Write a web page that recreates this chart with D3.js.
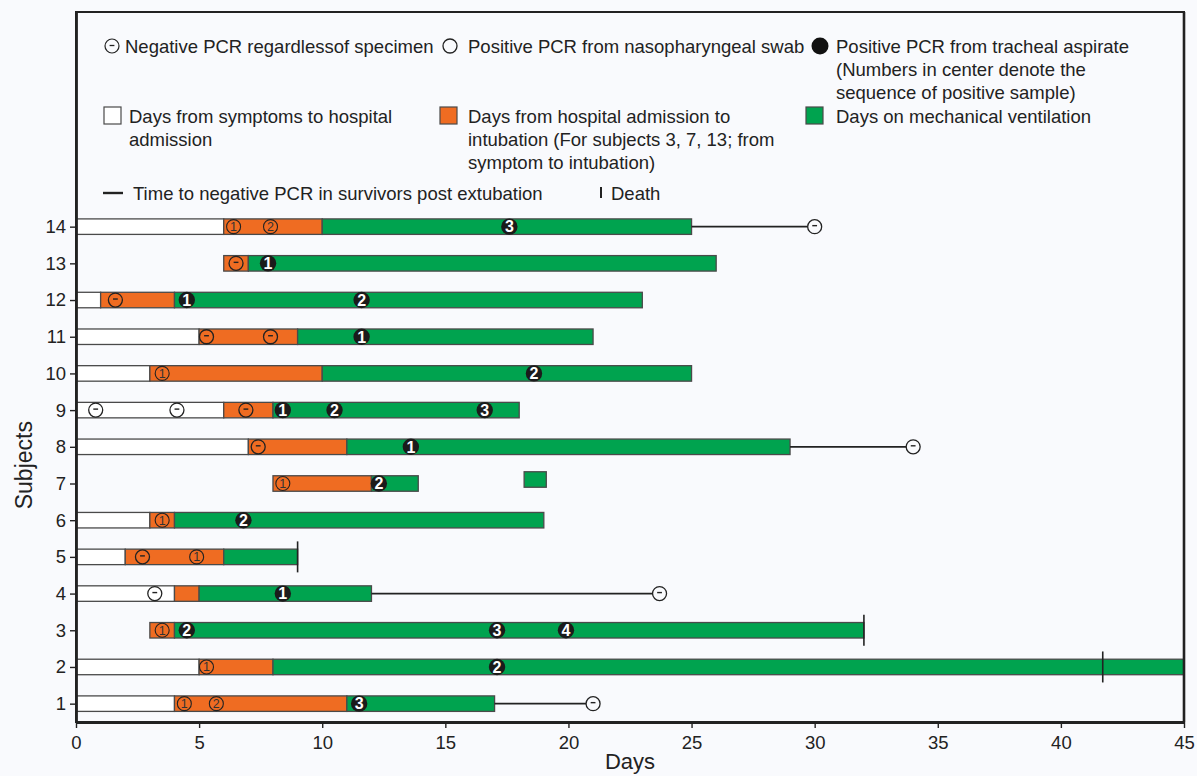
<!DOCTYPE html>
<html>
<head>
<meta charset="utf-8">
<script src="https://cdn.jsdelivr.net/npm/d3@7"></script>
<style>
  html, body { margin: 0; padding: 0; background: #f9fafd; }
  #chart { width: 1197px; height: 776px; }
  text { font-family: "Liberation Sans", Arial, sans-serif; fill: #222; }
</style>
</head>
<body>
<div id="chart"></div>
<script>
// Subject timelines: symptom onset -> admission -> intubation -> ventilation,
// with PCR sampling markers, post-extubation negative PCR lines and deaths.
var subjects     = [1, 2, 3, 4, 5, 6, 7, 8, 9, 10, 11, 12, 13, 14];
var admitDay     = [4, 5, null, 4, 2, 3, null, 7, 6, 3, 5, 1, null, 6];
var orangeStart  = [4, 5, 3, 4, 2, 3, 8, 7, 6, 3, 5, 1, 6, 6];
var intubDay     = [11, 8, 4, 5, 6, 4, 12, 11, 8, 10, 9, 4, 7, 10];
var ventEnd      = [17, 45, 32, 12, 9, 19, 13.9, 29, 18, 25, 21, 23, 26, 25];
var extraVent    = [[7, 18.2, 19.1]];            // subject, start, end
var negLines     = [[1, 21], [4, 23.7], [8, 34], [14, 30]];
var deaths       = [[2, 41.7], [3, 32], [5, 9]];
var negatives    = [[1, 21], [4, 3.2], [4, 23.7], [5, 2.7], [8, 7.4], [8, 34],
                    [9, 0.8], [9, 4.1], [9, 6.9], [11, 5.3], [11, 7.9],
                    [12, 1.6], [13, 6.5], [14, 30]];
var npPositive   = [[1, 4.4, 1], [1, 5.7, 2], [2, 5.3, 1], [3, 3.5, 1], [5, 4.9, 1],
                    [6, 3.5, 1], [7, 8.4, 1], [10, 3.5, 1], [14, 6.4, 1], [14, 7.9, 2]];
var trachPositive = [[1, 11.5, 3], [2, 17.1, 2], [3, 4.5, 2], [3, 17.1, 3], [3, 19.9, 4],
                     [4, 8.4, 1], [6, 6.8, 2], [7, 12.3, 2], [8, 13.6, 1], [9, 8.4, 1],
                     [9, 10.5, 2], [9, 16.6, 3], [10, 18.6, 2], [11, 11.6, 1],
                     [12, 4.5, 1], [12, 11.6, 2], [13, 7.8, 1], [14, 17.6, 3]];
var xTicks = [0, 5, 10, 15, 20, 25, 30, 35, 40, 45];

var C_ORANGE = '#ef6c22', C_GREEN = '#00a34f', C_EDGE = '#4a4a4a', C_BG = '#f9fafd';

(function () {
    var W = 1197, H = 776;
    var margin = { top: 12, right: 13, bottom: 54, left: 76 };
    var innerW = W - margin.left - margin.right;
    var innerH = H - margin.top - margin.bottom;

    var svg = d3.select('#chart').append('svg')
        .attr('width', W).attr('height', H);
    var g = svg.append('g')
        .attr('transform', 'translate(' + margin.left + ',' + margin.top + ')');

    var x = d3.scaleLinear().domain([0, 45]).range([0, innerW]);
    var y = d3.scaleLinear().domain([0.5, 19.85]).range([innerH, 0]);
    var barH = 15.5;

    // Frame
    g.append('rect').attr('x', 0).attr('y', 0)
        .attr('width', innerW).attr('height', innerH)
        .attr('fill', C_BG).attr('stroke', '#222').attr('stroke-width', 2);

    // Bars
    function bar(s, a, b, color, dy) {
        g.append('rect')
            .attr('x', x(a)).attr('y', y(s) - barH / 2 + (dy || 0))
            .attr('width', x(b) - x(a)).attr('height', barH)
            .attr('fill', color).attr('stroke', C_EDGE).attr('stroke-width', 1.3);
    }
    subjects.forEach(function (s, i) {
        if (admitDay[i] !== null) bar(s, 0, admitDay[i], '#ffffff');
        bar(s, orangeStart[i], intubDay[i], C_ORANGE);
        bar(s, intubDay[i], ventEnd[i], C_GREEN);
    });
    extraVent.forEach(function (d) { bar(d[0], d[1], d[2], C_GREEN, -4); });

    // Time to negative PCR lines
    var rOpen = 7;
    negLines.forEach(function (d) {
        var i = subjects.indexOf(d[0]);
        g.append('line')
            .attr('x1', x(ventEnd[i])).attr('x2', x(d[1]) - rOpen)
            .attr('y1', y(d[0])).attr('y2', y(d[0]))
            .attr('stroke', '#222').attr('stroke-width', 1.7);
    });

    // Deaths
    deaths.forEach(function (d) {
        g.append('line')
            .attr('x1', x(d[1])).attr('x2', x(d[1]))
            .attr('y1', y(d[0]) - barH).attr('y2', y(d[0]) + barH)
            .attr('stroke', '#222').attr('stroke-width', 1.6);
    });

    // Negative PCR markers
    negatives.forEach(function (d) {
        var cx = x(d[1]), cy = y(d[0]);
        g.append('circle').attr('cx', cx).attr('cy', cy).attr('r', rOpen)
            .attr('fill', 'none').attr('stroke', '#222').attr('stroke-width', 1.3);
        g.append('line').attr('x1', cx - 2.4).attr('x2', cx + 2.4)
            .attr('y1', cy - 1).attr('y2', cy - 1)
            .attr('stroke', '#222').attr('stroke-width', 1.4);
    });

    // Positive nasopharyngeal swab markers
    npPositive.forEach(function (d) {
        var cx = x(d[1]), cy = y(d[0]);
        g.append('circle').attr('cx', cx).attr('cy', cy).attr('r', rOpen)
            .attr('fill', 'none').attr('stroke', '#222').attr('stroke-width', 1.1);
        g.append('text').attr('x', cx).attr('y', cy + 4.5)
            .attr('text-anchor', 'middle').style('font-size', '12.5px')
            .style('fill', '#333').text(d[2]);
    });

    // Positive tracheal aspirate markers
    trachPositive.forEach(function (d) {
        var cx = x(d[1]), cy = y(d[0]);
        g.append('circle').attr('cx', cx).attr('cy', cy).attr('r', 8.2)
            .attr('fill', '#1b1b1b');
        g.append('text').attr('x', cx).attr('y', cy + 5.8)
            .attr('text-anchor', 'middle').style('font-size', '16px')
            .style('font-weight', 'bold').style('fill', '#fff').text(d[2]);
    });

    // Axes
    var xAxisG = g.append('g')
        .attr('transform', 'translate(0,' + innerH + ')')
        .call(d3.axisBottom(x).tickValues(xTicks).tickSize(6).tickSizeOuter(0));
    var yAxisG = g.append('g')
        .call(d3.axisLeft(y).tickValues(subjects).tickSize(6).tickSizeOuter(0));
    [xAxisG, yAxisG].forEach(function (ax) {
        ax.select('.domain').attr('stroke', '#222').attr('stroke-width', 2.8);
        ax.selectAll('.tick line').attr('stroke', '#222').attr('stroke-width', 1.4);
        ax.selectAll('.tick text')
            .style('font-family', '"Liberation Sans", Arial, sans-serif')
            .style('font-size', '18.5px').style('fill', '#222');
    });
    xAxisG.selectAll('.tick text').attr('dy', '0.95em');
    yAxisG.selectAll('.tick text').attr('dx', '-0.05em');
    g.append('line').attr('x1', innerW).attr('x2', innerW)
        .attr('y1', 0).attr('y2', innerH)
        .attr('stroke', '#222').attr('stroke-width', 2.6);

    // Axis titles
    svg.append('text').attr('x', margin.left + x(22.5)).attr('y', 769)
        .attr('text-anchor', 'middle').style('font-size', '22px').text('Days');
    svg.append('text')
        .attr('transform', 'translate(32,' + (margin.top + y(7.5)) + ') rotate(-90)')
        .attr('text-anchor', 'middle').style('font-size', '23px').text('Subjects');

    // Legend
    var L = svg.append('g');
    function ltext(tx, ty, str) {
        L.append('text').attr('x', tx).attr('y', ty).style('font-size', '18.5px').text(str);
    }
    // row 1
    L.append('circle').attr('cx', 112).attr('cy', 46).attr('r', 7)
        .attr('fill', 'none').attr('stroke', '#222').attr('stroke-width', 1.2);
    L.append('line').attr('x1', 109.6).attr('x2', 114.4).attr('y1', 45.5).attr('y2', 45.5)
        .attr('stroke', '#222').attr('stroke-width', 1.3);
    ltext(125, 53, 'Negative PCR regardlessof specimen');
    L.append('circle').attr('cx', 450).attr('cy', 46).attr('r', 7)
        .attr('fill', 'none').attr('stroke', '#222').attr('stroke-width', 1.3);
    ltext(468, 53, 'Positive PCR from nasopharyngeal swab');
    L.append('circle').attr('cx', 820).attr('cy', 46).attr('r', 8.5)
        .attr('fill', '#111');
    ltext(836, 53, 'Positive PCR from tracheal aspirate');
    ltext(836, 76, '(Numbers in center denote the');
    ltext(836, 99, 'sequence of positive sample)');
    // row 2
    L.append('rect').attr('x', 104).attr('y', 107).attr('width', 17).attr('height', 17)
        .attr('fill', '#fff').attr('stroke', C_EDGE).attr('stroke-width', 1.2);
    ltext(129, 123, 'Days from symptoms to hospital');
    ltext(129, 146, 'admission');
    L.append('rect').attr('x', 440).attr('y', 107).attr('width', 17).attr('height', 17)
        .attr('fill', C_ORANGE).attr('stroke', C_EDGE).attr('stroke-width', 1.2);
    ltext(468, 123, 'Days from hospital admission to');
    ltext(468, 146, 'intubation (For subjects 3, 7, 13; from');
    ltext(468, 169, 'symptom to intubation)');
    L.append('rect').attr('x', 806).attr('y', 107).attr('width', 17).attr('height', 17)
        .attr('fill', C_GREEN).attr('stroke', C_EDGE).attr('stroke-width', 1.2);
    ltext(836, 123, 'Days on mechanical ventilation');
    // row 3
    L.append('line').attr('x1', 103).attr('x2', 123).attr('y1', 193).attr('y2', 193)
        .attr('stroke', '#222').attr('stroke-width', 2.4);
    ltext(133, 200, 'Time to negative PCR in survivors post extubation');
    L.append('line').attr('x1', 601).attr('x2', 601).attr('y1', 187).attr('y2', 198)
        .attr('stroke', '#222').attr('stroke-width', 2);
    ltext(611, 200, 'Death');
})();
</script>
</body>
</html>
